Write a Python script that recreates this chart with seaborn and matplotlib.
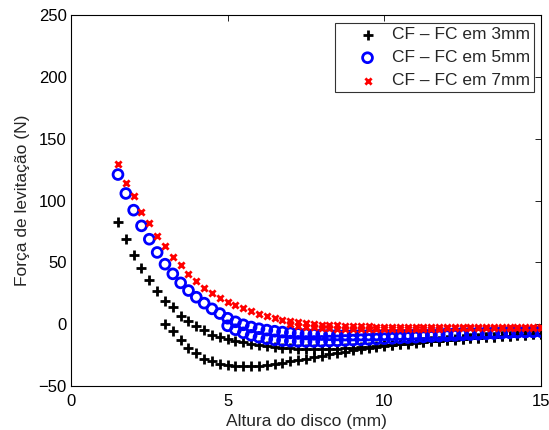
import numpy as np
import pandas as pd
import matplotlib
matplotlib.use("Agg")
import matplotlib.pyplot as plt
import seaborn as sns

# Disc height (mm) sampling grid
altura = np.arange(1.5, 15.001, 0.25)

# Force along the full height sweep (1.5 -> 15 mm), one per cooling height
forca_3mm = [82.7, 68.7, 56.3, 45.5, 35.7, 26.8, 19.0, 13.5, 7.0, 2.4,
             -1.5, -5.0, -8.5, -10.5, -12.0, -13.5, -14.5, -16.0, -17.0, -17.8,
             -18.5, -19.0, -19.4, -19.7, -19.9, -20.0, -20.0, -19.9, -19.7, -19.4,
             -19.0, -18.6, -18.1, -17.6, -17.0, -16.5, -16.0, -15.4, -14.8, -14.3,
             -13.8, -13.3, -12.8, -12.3, -11.8, -11.4, -11.0, -10.6, -10.2, -9.8,
             -9.4, -9.0, -8.6, -8.2, -7.8]
forca_5mm = [121.0, 105.7, 92.2, 79.5, 68.7, 58.0, 48.5, 40.7, 33.4, 27.2,
             21.8, 17.0, 12.4, 8.6, 4.8, 1.9, -0.5, -2.3, -3.7, -4.8,
             -5.7, -6.4, -7.0, -7.5, -7.9, -8.2, -8.4, -8.6, -8.7, -8.8,
             -8.8, -8.8, -8.8, -8.7, -8.6, -8.5, -8.4, -8.3, -8.1, -8.0,
             -7.8, -7.7, -7.5, -7.4, -7.2, -7.1, -6.9, -6.8, -6.6, -6.5,
             -6.3, -6.2, -6.0, -5.9, -5.7]
forca_7mm = [129.3, 114.5, 103.3, 91.0, 81.5, 71.4, 63.0, 54.4, 47.5, 40.7,
             34.8, 29.3, 25.0, 21.0, 18.0, 15.5, 12.8, 10.6, 8.3, 6.3,
             4.8, 3.5, 2.4, 1.5, 0.8, 0.2, -0.3, -0.7, -1.0, -1.3,
             -1.5, -1.7, -1.8, -1.9, -2.0, -2.1, -2.2, -2.2, -2.3, -2.3,
             -2.3, -2.3, -2.3, -2.3, -2.3, -2.3, -2.3, -2.3, -2.2, -2.2,
             -2.2, -2.2, -2.1, -2.1, -2.1]

# Force after field cooling, from the cooling height up to 15 mm
fc_3mm = [0.0, -5.3, -12.9, -19.3, -23.5, -27.8, -29.8, -31.8, -33.3, -34.0,
          -34.2, -34.0, -33.6, -33.0, -32.2, -31.2, -30.1, -29.0, -27.8, -26.6,
          -25.4, -24.3, -23.2, -22.2, -21.2, -20.3, -19.4, -18.6, -17.8, -17.1,
          -16.4, -15.7, -15.1, -14.5, -13.9, -13.4, -12.9, -12.4, -11.9, -11.5,
          -11.1, -10.7, -10.3, -9.9, -9.5, -9.1, -8.7, -8.3, -7.9]
fc_5mm = [-1.3, -4.5, -7.0, -9.0, -10.6, -11.8, -12.7, -13.3, -13.7, -13.9,
          -14.0, -14.0, -13.9, -13.7, -13.5, -13.2, -12.9, -12.6, -12.3, -12.0,
          -11.7, -11.4, -11.1, -10.8, -10.5, -10.2, -9.9, -9.6, -9.3, -9.0,
          -8.7, -8.4, -8.1, -7.8, -7.5, -7.2, -6.9, -6.6, -6.4, -6.2, -6.0]
fc_7mm = [0.0, -1.2, -2.0, -2.6, -3.0, -3.3, -3.5, -3.6, -3.7, -3.8,
          -3.8, -3.8, -3.8, -3.8, -3.7, -3.7, -3.6, -3.6, -3.5, -3.5,
          -3.4, -3.4, -3.3, -3.3, -3.2, -3.2, -3.1, -3.1, -3.0, -3.0,
          -2.9, -2.9, -2.8]

rotulos = ["CF \u2013 FC em 3mm", "CF \u2013 FC em 5mm", "CF \u2013 FC em 7mm"]
alturas_fc = [3.0, 5.0, 7.0]

def serie(varredura, fc, h0):
    x = np.concatenate([altura, altura[altura >= h0 - 1e-9]])
    y = np.concatenate([varredura, fc])
    return pd.DataFrame({"altura": x, "forca": y})

dados = [serie(forca_3mm, fc_3mm, alturas_fc[0]),
         serie(forca_5mm, fc_5mm, alturas_fc[1]),
         serie(forca_7mm, fc_7mm, alturas_fc[2])]

sns.set_theme(style="white")
plt.rcParams["font.family"] = ["Liberation Sans", "DejaVu Sans"]
fs = 12.5

fig = plt.figure(figsize=(5.49, 4.30), dpi=100)
ax = fig.add_axes([0.1293, 0.1023, 0.8561, 0.8628])

sns.scatterplot(data=dados[0], x="altura", y="forca", ax=ax, marker="+",
                s=48, color="black", linewidth=2.0,
                label=rotulos[0], zorder=3)
sns.scatterplot(data=dados[1], x="altura", y="forca", ax=ax, marker="o",
                s=50, color="blue", facecolor="none", edgecolor="blue",
                linewidth=2.0, label=rotulos[1], zorder=4)
sns.scatterplot(data=dados[2], x="altura", y="forca", ax=ax, marker="x",
                s=20, color="red", linewidth=2.0,
                label=rotulos[2], zorder=5)

ax.set_xlim(0, 15)
ax.set_ylim(-50, 250)
ax.set_xticks([0, 5, 10, 15])
ax.set_yticks([-50, 0, 50, 100, 150, 200, 250])
ax.set_xlabel("Altura do disco (mm)", fontsize=fs, labelpad=3.5)
ax.set_ylabel("For\u00e7a de levita\u00e7\u00e3o (N)", fontsize=fs, labelpad=6)
ax.tick_params(direction="in", length=4, width=0.6, top=True, right=True,
               labelsize=12, pad=3, colors="black")
ax.tick_params(axis="x", pad=5.5)
for lado in ax.spines.values():
    lado.set_color("black")
    lado.set_linewidth(0.8)

leg = ax.legend(loc="upper right", frameon=True, fancybox=False,
                fontsize=fs, handlelength=3.3, handletextpad=-0.25,
                borderpad=0.23, labelspacing=0.45, borderaxespad=0,
                bbox_to_anchor=(0.985, 0.978))
leg.get_frame().set_edgecolor("black")
leg.get_frame().set_linewidth(0.8)

fig.savefig("out.png", dpi=100)
